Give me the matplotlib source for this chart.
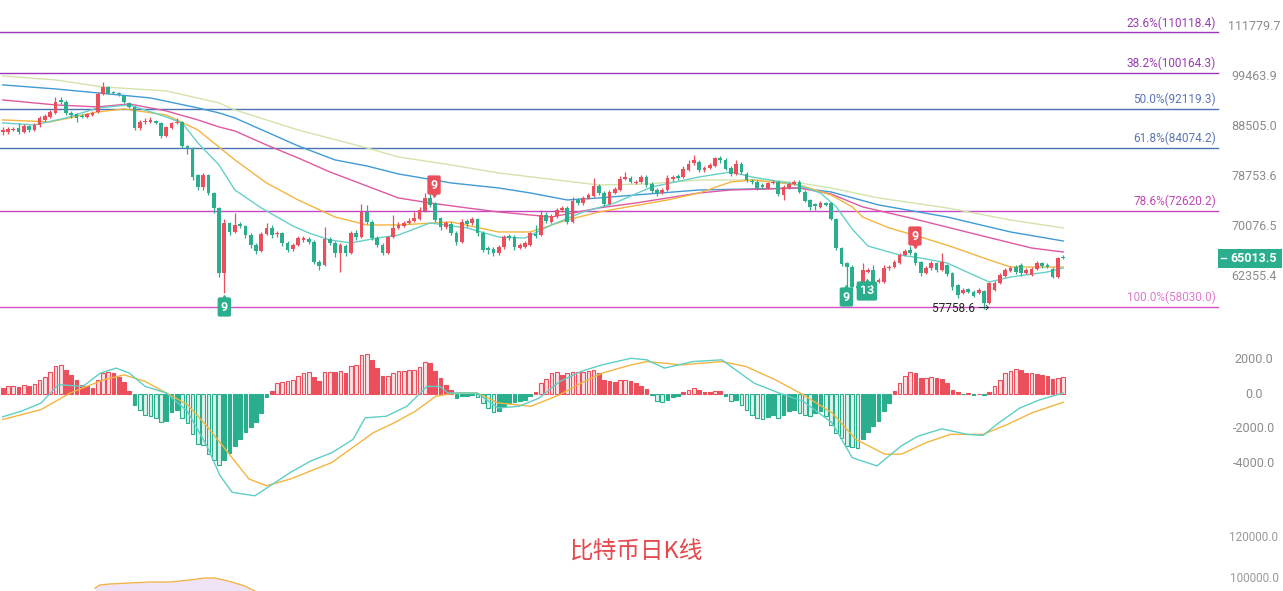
import numpy as np
import matplotlib
matplotlib.use("Agg")
import matplotlib.pyplot as plt
from matplotlib.transforms import blended_transform_factory
from matplotlib.patches import Rectangle

plt.rcParams['font.family'] = ['Roboto', 'Noto Sans CJK SC', 'DejaVu Sans']

# daily candles, oldest first
opens = [
    87300, 87300, 87700, 88120, 87300, 88530, 87700, 88740, 89780, 90410,
    91260, 94070, 93630, 91260, 91040, 90620, 90410, 90830, 91470, 95400,
    96970, 95850, 95630, 94955, 93420, 92550, 88120, 89360, 89360, 89570,
    89150, 86480, 88120, 89150, 89360, 84490, 84100, 78950, 76770, 78950,
    75700, 73100, 62800, 70580, 69110, 70410, 70080, 68620, 67040, 66110,
    68790, 69760, 68790, 68950, 67360, 66420, 67040, 67830, 67990, 67510,
    64430, 63980, 67990, 67360, 65800, 66880, 65800, 68950, 68300, 72410,
    70740, 68140, 67040, 65800, 68300, 69760, 70080, 70580, 70910, 71240,
    72580, 74820, 73950, 71410, 69920, 70410, 68950, 67510, 70910, 70580,
    71240, 68950, 66570, 66420, 65800, 66730, 68460, 68300, 66570, 66730,
    67040, 68790, 68620, 71910, 70740, 71740, 72750, 73100, 70740, 74470,
    73950, 74820, 75170, 76950, 75700, 73780, 75700, 76230, 78220, 78400,
    77490, 77670, 78580, 77300, 76230, 75700, 76230, 78220, 78770, 78580,
    79880, 81200, 81390, 79880, 80260, 80630, 82150, 81770, 80260, 79140,
    81010, 79140, 77850, 77670, 77120, 76590, 77490, 77670, 75350, 76590,
    77300, 77670, 75880, 74470, 73780, 73270, 73950, 73950, 71240, 66570,
    64280, 63680, 60915, 61060, 62940, 63240, 61490, 61490, 63530, 63680,
    64280, 65490, 66260, 65800, 64430, 62800, 63530, 64280, 63240, 63980,
    62800, 61060, 59930, 60490, 60070, 59930, 60210, 58550, 60350, 61350,
    62355, 63090, 63680, 63980, 62800, 62500, 63390, 64280, 63980, 63390,
    62210, 65190,
]
highs = [
    88320, 88320, 88320, 89150, 88940, 88740, 89150, 90620, 91040, 91900,
    94730, 94730, 94070, 91685, 91260, 91040, 91260, 91685, 95850, 98110,
    97200, 96070, 95850, 95180, 93630, 92760, 89780, 90200, 90410, 89780,
    89360, 88530, 89360, 90200, 89570, 84680, 84300, 79140, 79320, 79140,
    75880, 73270, 71240, 70740, 72240, 70740, 70250, 68950, 67360, 69110,
    70580, 70250, 69270, 69110, 67670, 67360, 68460, 68460, 68300, 67830,
    64730, 69920, 68300, 67670, 67360, 67200, 69270, 69430, 73780, 73610,
    71070, 68460, 67360, 68460, 71910, 70740, 70910, 71410, 72410, 73270,
    75700, 75700, 74130, 71570, 70910, 70740, 69270, 71240, 71240, 71570,
    71410, 69270, 66880, 66730, 67040, 68620, 68790, 68620, 67360, 67670,
    69110, 70250, 72750, 72410, 72070, 73100, 73440, 73440, 75000, 74820,
    75170, 75700, 78400, 77300, 76050, 76230, 76770, 78770, 79510, 78770,
    78030, 78950, 78950, 77670, 76590, 76590, 78950, 78950, 79140, 80630,
    81770, 82730, 81770, 80630, 81200, 82340, 82540, 82150, 80630, 81770,
    81390, 79510, 78220, 78030, 77490, 77670, 78030, 77850, 77120, 77670,
    78030, 78030, 76230, 74650, 73950, 74300, 74130, 74130, 71410, 66730,
    64430, 63980, 61200, 64280, 63530, 63980, 62070, 63980, 63980, 64730,
    65800, 66420, 66880, 65950, 64580, 63830, 64580, 64430, 65800, 64130,
    62940, 61200, 60630, 60630, 60350, 60630, 60350, 61490, 61630, 62800,
    63530, 63830, 63980, 64280, 63530, 63680, 64580, 64430, 64280, 63680,
    65190, 65490,
]
lows = [
    86690, 86890, 87500, 86890, 87090, 87300, 87500, 88320, 89570, 90200,
    91040, 93200, 90830, 90200, 89360, 90200, 90200, 90620, 91260, 95180,
    95400, 95400, 94955, 93420, 92330, 87700, 87700, 88940, 89150, 88940,
    86080, 86280, 87910, 88940, 84100, 82930, 78030, 76230, 76230, 75350,
    72240, 62210, 59930, 68620, 68950, 69760, 68140, 66570, 65640, 65950,
    68620, 68140, 68300, 66880, 65950, 66110, 66880, 67510, 67200, 64130,
    63240, 63830, 67040, 65190, 62940, 65340, 65640, 67830, 68140, 70410,
    67830, 66730, 65490, 65640, 68140, 69590, 69920, 70410, 70740, 71070,
    72410, 73270, 70740, 69430, 69590, 68620, 67040, 67360, 69920, 70250,
    68460, 65950, 65640, 65340, 65490, 66420, 67830, 66260, 66420, 66570,
    66880, 68140, 68460, 70580, 70580, 71410, 72410, 70410, 70580, 73610,
    73610, 74650, 75000, 75350, 73440, 73610, 75520, 76050, 78030, 77490,
    77300, 77490, 76770, 75700, 75170, 75520, 76050, 77850, 78030, 78400,
    79700, 80820, 79510, 79510, 80070, 80440, 81200, 79880, 78770, 78950,
    79140, 77670, 77300, 76230, 76410, 76410, 77300, 75170, 74470, 76410,
    77120, 75700, 74130, 72750, 72750, 73100, 73440, 71070, 66260, 63830,
    60350, 60350, 60350, 60915, 62800, 61200, 61350, 61350, 63240, 63530,
    64130, 65340, 65490, 63980, 62355, 62650, 63240, 62940, 63090, 62355,
    60350, 59230, 59790, 59930, 59370, 59790, 57758.6, 58410, 60210, 61200,
    62210, 62940, 62650, 62355, 62650, 62355, 63240, 63530, 63530, 62070,
    62070, 64880,
]
closes = [
    87700, 87910, 87910, 87300, 88530, 87700, 88740, 90200, 90620, 91470,
    93630, 93630, 91260, 90830, 90200, 90410, 91040, 91260, 95400, 96970,
    95630, 95630, 95400, 93630, 92550, 88120, 89360, 89570, 89780, 89150,
    86480, 88320, 89150, 89360, 84490, 84100, 78580, 76770, 78950, 75700,
    73100, 62800, 70580, 69110, 70250, 70080, 68620, 67040, 66110, 68790,
    69760, 68620, 68950, 67360, 66260, 67040, 68140, 68140, 67510, 64430,
    63830, 67990, 67360, 65800, 67040, 65800, 68950, 68300, 72410, 70740,
    68140, 67040, 65800, 68300, 69760, 70250, 70580, 70910, 71410, 72750,
    74820, 73610, 71070, 69920, 70580, 68950, 67510, 70740, 70410, 71240,
    68950, 66260, 66260, 65800, 66730, 68300, 68140, 66730, 67040, 67360,
    68950, 68460, 71910, 70910, 71740, 72750, 73100, 70740, 74300, 73950,
    74820, 75350, 76950, 75700, 73780, 75880, 76410, 78220, 78580, 77670,
    77670, 78580, 77120, 76050, 75700, 76230, 78400, 78580, 78400, 80070,
    81010, 81770, 79880, 80260, 80820, 82150, 81770, 80070, 79140, 81010,
    79510, 78030, 77670, 76590, 76770, 77490, 77670, 75520, 76770, 77300,
    77670, 75880, 74300, 73270, 73440, 73950, 73610, 71240, 66570, 64130,
    63680, 60770, 60630, 63240, 63240, 61490, 61780, 63530, 63680, 64430,
    65490, 66110, 65800, 64280, 62800, 63530, 64280, 63240, 64430, 62650,
    60770, 59650, 60350, 60070, 59510, 60350, 58550, 61350, 61350, 62500,
    63240, 63530, 62940, 62800, 63240, 63390, 64280, 63830, 63680, 62210,
    65030, 65013.5,
]

# moving averages, read at candle positions
ma1_idx = [0, 6, 12, 18, 24, 31, 34, 37, 41, 44, 49, 55, 58, 62, 66, 71, 75, 81, 88, 94,
           99, 104, 110, 116, 123, 132, 138, 142, 150, 155, 158, 161, 164, 170, 174, 179,
           184, 187, 191, 198, 201]
ma1_val = [89150, 88740, 90200, 92330, 92980, 90410, 89150, 85080, 80820, 76230, 73100,
           70080, 68950, 67830, 67360, 68140, 68620, 70580, 69760, 68300, 68140, 70250,
           72410, 73950, 76770, 78580, 79510, 78580, 77300, 75700, 73270, 69590, 66880,
           65490, 65030, 64280, 62500, 61490, 62210, 62940, 63530]
ma2_idx = [0, 9, 18, 23, 31, 37, 44, 50, 56, 63, 69, 75, 85, 94, 100, 107, 113, 126, 132,
           138, 142, 151, 157, 161, 163, 168, 174, 180, 187, 191, 201]
ma2_val = [89780, 89360, 91470, 92110, 90830, 87700, 81770, 77490, 74470, 71570, 70250,
           70250, 70740, 69110, 69110, 71070, 72410, 74470, 75700, 77670, 78030, 77120,
           75350, 73270, 71570, 69760, 68300, 66730, 64730, 63680, 63680]
ma3_idx = [0, 10, 18, 24, 31, 37, 41, 44, 50, 56, 62, 69, 75, 81, 88, 94, 100, 104, 108,
           113, 120, 126, 132, 138, 145, 151, 157, 163, 172, 185, 195, 201]
ma3_val = [94070, 92980, 92550, 93200, 91685, 89780, 88320, 87500, 84680, 82150, 79510,
           76950, 74820, 73950, 73100, 72410, 71910, 71570, 72240, 73100, 73950, 74820,
           75700, 76230, 76410, 76590, 75520, 73270, 71410, 68620, 66570, 65950]
ma4_idx = [0, 10, 18, 28, 37, 41, 44, 50, 56, 63, 69, 75, 85, 94, 100, 107, 113, 120, 132,
           142, 151, 157, 166, 179, 191, 201]
ma4_val = [97430, 96520, 95630, 94510, 92330, 91260, 90200, 87300, 84490, 81770, 80630,
           79140, 77490, 76590, 75700, 74470, 74820, 75350, 76230, 76410, 76590, 75880,
           73610, 71570, 69110, 67670]
ma5_idx = [0, 10, 19, 31, 41, 44, 56, 69, 75, 85, 94, 105, 113, 122, 132, 145, 151, 157,
           166, 179, 191, 201]
ma5_val = [99500, 98570, 96970, 96070, 93420, 91900, 87700, 84100, 82340, 80820, 79320,
           78030, 77120, 77300, 78030, 78030, 77490, 76590, 74820, 73100, 71070, 69760]

fib_pct = ['23.6%', '38.2%', '50.0%', '61.8%', '78.6%', '100.0%']
fib_val = [110118.4, 100164.3, 92119.3, 84074.2, 72620.2, 58030.0]
price_ticks = [111779.7, 99463.9, 88505.0, 78753.6, 70076.5, 62355.4]

# TD sequential counts
mark_idx = [81.75, 172.9, 42.0, 159.9, 163.8]
mark_price = [77120, 68460, 58000, 59370, 60210]
mark_text = ['9', '9', '9', '9', '13']
mark_top = [True, True, False, False, False]

macd_hist = [
    350, 440, 440, 400, 520, 480, 600, 790, 980, 1270,
    1600, 1670, 1400, 1110, 790, 540, 440, 350, 790, 1210,
    1290, 1210, 980, 670, 190, -650, -900, -1190, -1250, -1380,
    -1610, -1540, -1060, -900, -1380, -1670, -2340, -2920, -2980, -3500,
    -3800, -4100, -3800, -3400, -3000, -2600, -2200, -1900, -1600, -1100,
    -150, 190, 630, 670, 730, 790, 1060, 1210, 1270, 980,
    730, 1250, 1270, 1250, 1310, 1210, 1600, 1690, 2270, 2300,
    1980, 1500, 1060, 1060, 1210, 1310, 1360, 1400, 1400, 1560,
    1860, 1820, 1310, 920, 540, 250, -230, -130, -100, -30,
    -170, -520, -810, -1060, -1000, -710, -520, -480, -420, -330,
    -100, 115, 630, 860, 1210, 1270, 1110, 1210, 1250, 1270,
    1270, 1360, 1400, 1210, 830, 730, 670, 830, 830, 730,
    630, 480, 310, -60, -420, -480, -330, -190, -100, 115,
    250, 330, 250, 130, 100, 190, 150, -100, -380, -330,
    -610, -900, -1190, -1380, -1440, -1320, -1190, -1380, -1190, -1000,
    -900, -1100, -1190, -1250, -1130, -1000, -1290, -1770, -2250, -2530,
    -3010, -3050, -3110, -2590, -2210, -1860, -1570, -1000, -520, 150,
    630, 1020, 1250, 1210, 920, 920, 960, 920, 860, 630,
    250, 100, -20, 60, -60, 20, -40, 100, 440, 790,
    1210, 1340, 1440, 1400, 1210, 1210, 1170, 1110, 1020, 860,
    920, 980,
]
dif_idx = [0, 3.5, 7.3, 10.5, 15.2, 18.5, 21.5, 24, 27, 31, 35, 38.7, 41.2, 43.5, 47.8,
           50.7, 54.5, 58.4, 62.4, 66.4, 68.7, 72.7, 76.6, 80.4, 82.9, 84.4, 89.9, 93.9,
           97.9, 101.7, 105.6, 109.6, 113.6, 119.1, 122.1, 125.4, 130.8, 136.3, 142.4,
           147.1, 151.7, 157.2, 161, 165.7, 170.3, 173.5, 178, 182.8, 185.8, 188.8, 192.8,
           196.6, 201]
dif_val = [-1320, -1000, -520, 540, 440, 1210, 1500, 1210, 440, 60, -1000, -3010, -4740,
           -5700, -5900, -5320, -4550, -3880, -3400, -2630, -1380, -1290, -710, 440, 440,
           60, 60, -810, -710, -230, 730, 1310, 1690, 2070, 1980, 1500, 1880, 1980, 630,
           60, -420, -1670, -3690, -4170, -3010, -2440, -2020, -2340, -2400, -1670, -810,
           -330, 60]
dea_idx = [0, 7.3, 12.8, 19.2, 23, 27, 31, 35, 38.7, 42.7, 46.7, 50, 54.5, 62.4, 70.2, 74.2,
           78.2, 82.1, 85.9, 89.9, 93.9, 100.1, 105.6, 109.6, 113.6, 119.1, 122.1, 128.6,
           136.3, 140.9, 146.4, 151.7, 157.2, 161.7, 167.2, 170.3, 175, 179.6, 185.8, 190.4,
           195.1, 201]
dea_val = [-1480, -900, 60, 830, 1110, 730, 60, -610, -1860, -3400, -4930, -5320, -4930,
           -3970, -2250, -1670, -1000, -130, 60, 60, -520, -710, -40, 630, 1210, 1690, 1880,
           1690, 1880, 1590, 830, -40, -1090, -2630, -3490, -3490, -2820, -2340, -2340,
           -1770, -1090, -480]
macd_ticks = [2000.0, 0.0, -2000.0, -4000.0]

# top edge of the next (cut off) panel
area_idx = [17.5, 18.4, 20.3, 24.1, 27.9, 31.7, 35.5, 38.3, 40.2, 42.7, 45.9, 47.8]
area_val = [95120, 96590, 97070, 97560, 98050, 98050, 99020, 100000, 100000, 98540, 96100, 93660]
lower_ticks = [120000.0, 100000.0]

UP = '#ea4f5b'
DOWN = '#2aae8e'
GREY = '#8c8c8c'
W = 1283
H = 591

fig = plt.figure(figsize=(12.83, 5.91), dpi=100)
ax = fig.add_axes([0, 266 / H, 1, 325 / H])
ax_m = fig.add_axes([0, 71 / H, 1, 190 / H])
ax_b = fig.add_axes([0, 0, 1, 66 / H])
for a in (ax, ax_m, ax_b):
    a.set_xlim(-0.512, 242.66)
    a.axis('off')

# ---- price panel
ax.set_yscale('log')
ax.set_ylim(55613, 118800)
o = np.array(opens)
c = np.array(closes)
x = np.arange(len(c))
col = np.where(c >= o, UP, DOWN)
ax.vlines(x, lows, highs, colors=col, lw=0.9, zorder=3)
lo = np.minimum(o, c)
ax.bar(x, np.maximum(np.abs(c - o), lo * 0.0015), bottom=lo, width=0.7,
       color=col, linewidth=0, zorder=4)

for ix, vals, color in [(ma5_idx, ma5_val, '#d3e3aa'), (ma4_idx, ma4_val, '#3f9ad6'),
                        (ma3_idx, ma3_val, '#e0589f'), (ma2_idx, ma2_val, '#f3b53f'),
                        (ma1_idx, ma1_val, '#66d0c8')]:
    ax.plot(ix, vals, color=color, lw=1.0, zorder=2)

tr = blended_transform_factory(ax.transAxes, ax.transData)
fib_line = ['#9c36b8', '#9c36b8', '#4c72b5', '#4c72b5', '#c646c2', '#d44fc8']
fib_txt = ['#9a3ab5', '#9a3ab5', '#5b74b8', '#5b74b8', '#c046b8', '#e07ad0']
for p, v, lc, tc in zip(fib_pct, fib_val, fib_line, fib_txt):
    ax.axhline(v, xmin=0, xmax=1218 / W, color=lc, lw=1.0, zorder=1)
    ax.annotate(f'{p}({v:.1f})', xy=(1216 / W, v), xycoords=tr, xytext=(0, 2),
                textcoords='offset points', ha='right', va='bottom', color=tc, fontsize=8.5)

for v in price_ticks:
    ax.text(1254 / W, v, f'{v:.1f}', transform=tr, ha='center', va='center',
            color=GREY, fontsize=9)

last = closes[-1]
top = last * 1.0212
bot = last / 1.0236
ax.add_patch(Rectangle((1218 / W, bot), 64 / W, top - bot, transform=tr,
                       color=DOWN, lw=0, clip_on=False, zorder=5))
ax.plot([1221 / W, 1226 / W], [last, last], transform=tr, color='white', lw=1, zorder=6)
ax.text(1254 / W, last, f'{last:.1f}', transform=tr, ha='center', va='center',
        color='white', fontsize=9, fontweight='bold', zorder=6)

for mi, mp, mt, is_top in zip(mark_idx, mark_price, mark_text, mark_top):
    mc = UP if is_top else DOWN
    ax.text(mi, mp, mt, ha='center', va='center', color='white', fontsize=9,
            fontweight='bold', zorder=7,
            bbox=dict(boxstyle='round,pad=0.25,rounding_size=0.15', fc=mc, ec='none'))
    if is_top:
        ax.plot(mi, mp / 1.022, marker='v', color=mc, ms=4, zorder=7)
    else:
        ax.plot(mi, mp * 1.022, marker='^', color=mc, ms=4, zorder=7)

low_i = int(np.argmin(lows))
ax.text(low_i + 1.1, lows[low_i], f'{lows[low_i]:.1f} →', ha='right', va='center',
        color='#222222', fontsize=8.5, zorder=7)

# ---- MACD panel
ax_m.set_ylim(-7304, 3710)
hv = np.array(macd_hist, dtype=float)
prev = np.concatenate([[0.0], hv[:-1]])
grow = (np.abs(hv) >= np.abs(prev)) & (np.sign(hv) == np.sign(prev))
faces, edges = [], []
for v, g in zip(hv, grow):
    base = UP if v >= 0 else DOWN
    light = '#fce1e4' if v >= 0 else '#dcf3ec'
    faces.append(light if g else base)
    edges.append(base)
ax_m.bar(x, hv, width=0.7, color=faces, edgecolor=edges, linewidth=0.8, zorder=2)
ax_m.plot(dea_idx, dea_val, color='#f3b53f', lw=1.0, zorder=3)
ax_m.plot(dif_idx, dif_val, color='#5ccfc6', lw=1.0, zorder=3)
trm = blended_transform_factory(ax_m.transAxes, ax_m.transData)
for v in macd_ticks:
    ax_m.text(1254 / W, v, f'{v:.1f}', transform=trm, ha='center', va='center',
              color=GREY, fontsize=9)

# ---- lower panel (cut off)
ax_b.set_ylim(93659, 125854)
ax_b.fill_between(area_idx, area_val, 93659, color='#efe4f6', lw=0)
ax_b.plot(area_idx, area_val, color='#f0b44a', lw=1.0)
trb = blended_transform_factory(ax_b.transAxes, ax_b.transData)
for v in lower_ticks:
    ax_b.text(1254 / W, v, f'{v:.1f}', transform=trb, ha='center', va='center',
              color='#9a9a9a', fontsize=8.5)

fig.text(637 / W, (H - 552) / H, '比特币日K线', ha='center', va='center',
         color='#e5484d', fontsize=17, family=['Noto Sans CJK SC', 'DejaVu Sans'])

fig.savefig('out.png', dpi=100, facecolor='white')
